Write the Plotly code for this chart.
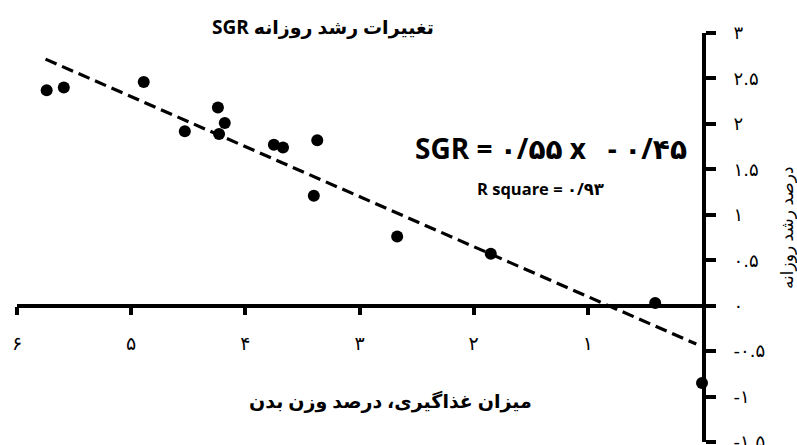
import plotly.graph_objects as go

# ---- data ----
feed_rate = [5.74, 5.59, 4.89, 4.53, 4.24, 4.18, 4.23, 3.75, 3.67, 3.37, 3.40, 2.67, 1.85, 0.41, 0.0]
sgr = [2.37, 2.40, 2.46, 1.92, 2.18, 2.01, 1.89, 1.77, 1.74, 1.82, 1.21, 0.76, 0.57, 0.03, -0.85]

trend_slope = 0.55
trend_intercept = -0.45
trend_x = [5.75, 0.05]
trend_y = [trend_slope * v + trend_intercept for v in trend_x]

x_tickvals = [6, 5, 4, 3, 2, 1]
x_ticktext = ["۶", "۵", "۴", "۳", "۲", "۱"]
y_tickvals = [3, 2.5, 2, 1.5, 1, 0.5, 0, -0.5, -1, -1.5]
y_ticktext = ["۳", "۲.۵", "۲", "۱.۵", "۱", "۰.۵", "۰", "-۰.۵", "-۱", "-۱.۵"]

title_text = "SGR تغییرات رشد روزانه"
equation_text = "SGR = ۰/۵۵ x\u00a0\u00a0\u00a0- ۰/۴۵"
r2_text = "R square = ۰/۹۳"
x_title = "میزان غذاگیری، درصد وزن بدن"
y_title = "درصد رشد روزانه"

# ---- layout geometry ----
W, H = 797, 445
ML, MR, MT, MB = 17, 95, 33, 3
PW, PH = W - ML - MR, H - MT - MB


def px(x):
    return (x - ML) / PW


def py(y):
    return (H - MB - y) / PH


FONT = "Open Sans, DejaVu Sans, sans-serif"

fig = go.Figure()
fig.add_trace(go.Scatter(
    x=trend_x, y=trend_y, mode="lines",
    line=dict(color="black", width=3.2, dash="12px,6px"),
    hoverinfo="skip", showlegend=False,
))
fig.add_trace(go.Scatter(
    x=feed_rate, y=sgr, mode="markers",
    marker=dict(color="black", size=12),
    cliponaxis=False, showlegend=False,
))

fig.update_layout(
    width=W, height=H,
    margin=dict(l=ML, r=MR, t=MT, b=MB, autoexpand=False),
    paper_bgcolor="white", plot_bgcolor="white",
    font=dict(family=FONT, color="black"),
    xaxis=dict(
        range=[6, 0], anchor="free", position=1.5 / 4.5,
        showgrid=False, zeroline=False, automargin=False,
        showline=True, linecolor="black", linewidth=3.5,
        ticks="outside", ticklen=8, tickwidth=3.5, tickcolor="black",
        tickvals=x_tickvals, ticktext=x_ticktext,
        tickfont=dict(size=19, family="DejaVu Sans"),
        ticklabelstandoff=12,
    ),
    yaxis=dict(
        range=[-1.5, 3], side="right", anchor="x",
        showgrid=False, zeroline=False, automargin=False,
        showline=True, linecolor="black", linewidth=4,
        ticks="outside", ticklen=10, tickwidth=4, tickcolor="black",
        tickvals=y_tickvals, ticktext=y_ticktext,
        tickfont=dict(size=18, family="DejaVu Sans"),
        ticklabelstandoff=14, ticklabeloverflow="allow",
    ),
    annotations=[
        dict(text="<b>" + title_text + "</b>", xref="paper", yref="paper",
             x=px(323), y=py(27), xanchor="center", yanchor="middle",
             showarrow=False, font=dict(size=19, family=FONT)),
        dict(text="<b>" + equation_text + "</b>", xref="paper", yref="paper",
             x=px(413), y=py(148), xanchor="left", yanchor="middle",
             showarrow=False, font=dict(size=28, family=FONT)),
        dict(text="<b>" + r2_text + "</b>", xref="paper", yref="paper",
             x=px(540), y=py(188), xanchor="center", yanchor="middle",
             showarrow=False, font=dict(size=16.5, family=FONT)),
        dict(text="<b>" + x_title + "</b>", xref="paper", yref="paper",
             x=px(391), y=py(401), xanchor="center", yanchor="middle",
             showarrow=False, font=dict(size=19, family=FONT)),
        dict(text=y_title, xref="paper", yref="paper",
             x=px(786), y=py(228), xanchor="center", yanchor="middle",
             textangle=-90, showarrow=False, font=dict(size=17, family=FONT)),
    ],
)

fig.write_html(
    "out.html",
    config={"displayModeBar": False},
    post_script="document.body.style.margin='0';document.body.style.overflow='hidden';",
)
